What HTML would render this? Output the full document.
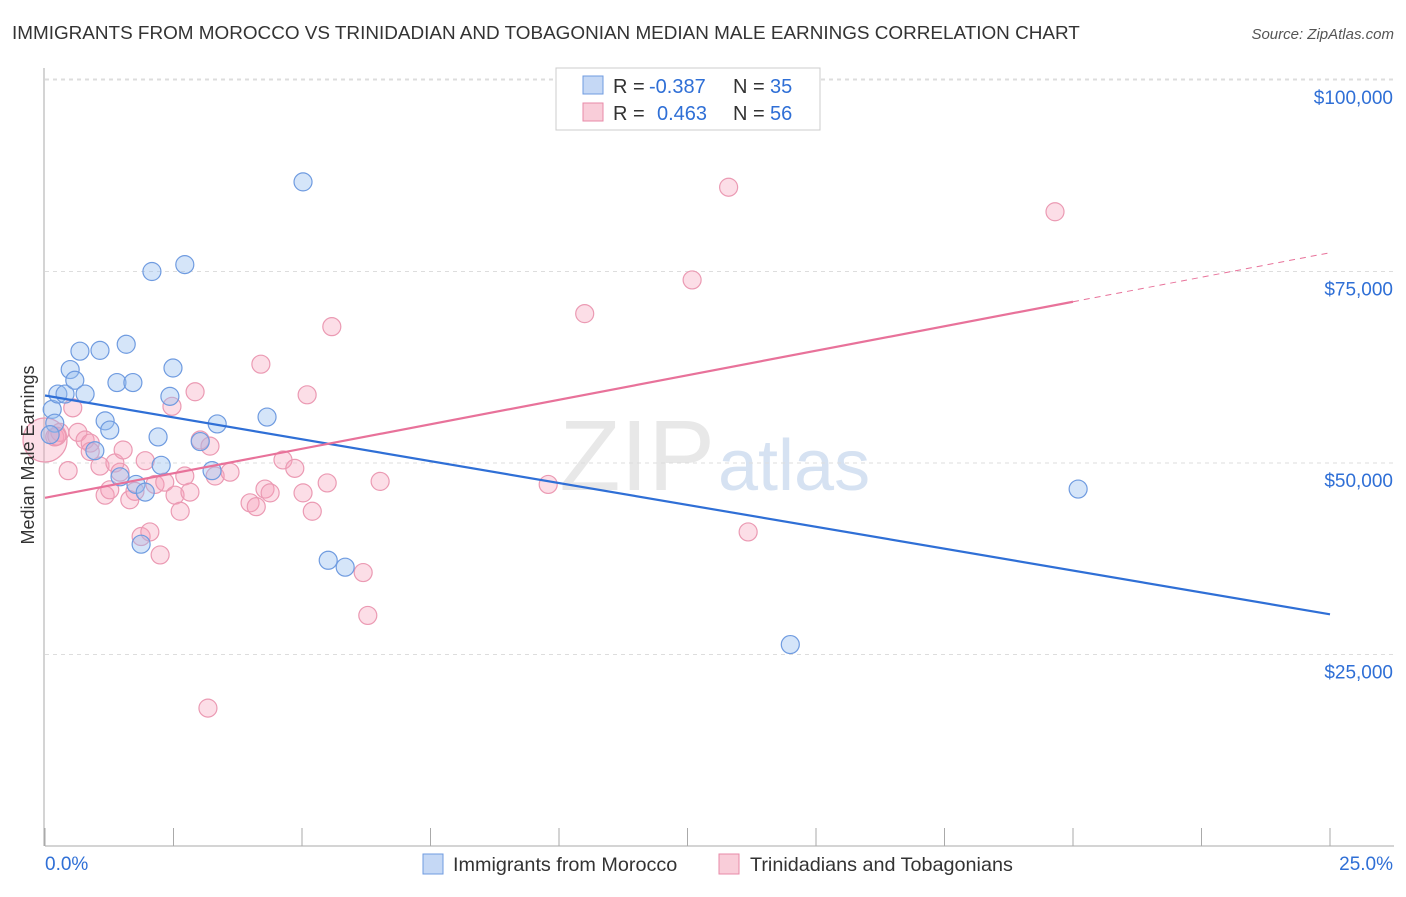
<!DOCTYPE html>
<html><head><meta charset="utf-8"><style>
body{margin:0;background:#fff;font-family:"Liberation Sans",sans-serif}
svg text{font-family:"Liberation Sans",sans-serif}
</style></head><body>
<svg id="c" width="1406" height="892">
<text x="12" y="39" font-size="18.9" fill="#333">IMMIGRANTS FROM MOROCCO VS TRINIDADIAN AND TOBAGONIAN MEDIAN MALE EARNINGS CORRELATION CHART</text>
<text x="1394" y="39" font-size="15" fill="#555" font-style="italic" text-anchor="end">Source: ZipAtlas.com</text>
<text x="715" y="490" font-size="100" fill="#e8e8e8" font-family="Liberation Serif" text-anchor="end">ZIP</text>
<text x="718" y="490" font-size="72" fill="#d6e2f2">atlas</text>
<g id="grid"></g><g id="axes"></g><g id="pts"></g><g id="lines"></g>
<text x="34" y="455" font-size="18" fill="#333" text-anchor="middle" transform="rotate(-90 34 455)">Median Male Earnings</text>
<g>
<rect x="556" y="68" width="264" height="62" fill="#fff" stroke="#ccc"/>
<rect x="583" y="76" width="20" height="18" fill="#c5d8f5" stroke="#6f9be0"/>
<rect x="583" y="103" width="20" height="18" fill="#f9cdd9" stroke="#e88aa8"/>
<text x="613" y="93" font-size="20" fill="#333">R =</text>
<text x="649" y="93" font-size="20" fill="#2f6fd6">-0.387</text>
<text x="733" y="93" font-size="20" fill="#333">N =</text>
<text x="770" y="93" font-size="20" fill="#2f6fd6">35</text>
<text x="613" y="120" font-size="20" fill="#333">R =</text>
<text x="657" y="120" font-size="20" fill="#2f6fd6">0.463</text>
<text x="733" y="120" font-size="20" fill="#333">N =</text>
<text x="770" y="120" font-size="20" fill="#2f6fd6">56</text>
</g>
<g>
<rect x="423" y="854" width="20" height="20" fill="#c5d8f5" stroke="#6f9be0"/>
<text x="453" y="871" font-size="19.8" fill="#333">Immigrants from Morocco</text>
<rect x="719" y="854" width="20" height="20" fill="#f9cdd9" stroke="#e88aa8"/>
<text x="750" y="871" font-size="19.8" fill="#333">Trinidadians and Tobagonians</text>
</g>
</svg>
<script>
const yTicks=[25000,50000,75000,100000];
const yTickLabels=["$25,000","$50,000","$75,000","$100,000"];
const xTickLabels=["0.0%","25.0%"];
const blueX=[0.14,0.19,0.25,0.39,0.49,0.58,0.68,0.78,1.07,1.17,1.26,0.97,1.40,1.58,1.71,1.46,1.77,1.95,1.87,2.08,2.20,2.26,2.49,2.43,2.72,3.02,3.25,3.35,4.32,5.02,5.51,5.84,14.5,20.1,0.10];
const blueY=[57000,55200,59000,59000,62200,60800,64600,59000,64700,55500,54300,51600,60500,65500,60500,48200,47200,46200,39400,75000,53400,49700,62400,58700,75900,52800,49000,55100,56000,86700,37300,36400,26300,46600,53700];
const pinkX=[0.0,0.19,0.29,0.54,0.45,0.64,0.78,0.88,1.07,1.17,1.26,1.36,1.46,1.52,1.65,1.75,1.87,2.04,1.95,2.14,2.24,2.33,2.47,2.53,2.63,2.72,2.82,2.92,3.02,3.17,3.21,3.31,3.6,3.99,4.11,4.20,4.28,4.38,4.63,4.86,5.02,5.1,5.2,5.49,5.58,6.19,6.28,6.52,9.79,10.5,12.59,13.3,13.68,19.65,0.23,0.88];
const pinkY=[53000,53400,54000,57200,49000,54000,53000,52600,49600,45800,46500,50000,48800,51700,45200,46300,40400,41000,50300,47200,38000,47500,57400,45800,43700,48300,46200,59300,53000,18000,52200,48300,48800,44800,44300,62900,46600,46100,50400,49300,46100,58900,43700,47400,67800,35700,30100,47600,47200,69500,73900,86000,41000,82800,53500,51500];
const pinkR=[22];
const X=v=>45+v/25*1285, Y=v=>846-v/25000*191.5;
const ns="http://www.w3.org/2000/svg";
function mk(p,t,a){const e=document.createElementNS(ns,t);for(const k in a)e.setAttribute(k,a[k]);document.getElementById(p).appendChild(e);return e;}
yTicks.forEach((v,i)=>{
const l=mk('grid','line',{x1:45,x2:1394,y1:Y(v),y2:Y(v),stroke:'#ddd','stroke-dasharray':'4 4'});


const t=mk('axes','text',{x:1393,y:Y(v)+24,'font-size':19,fill:'#2f6fd6','text-anchor':'end'});
t.textContent=yTickLabels[i];


});
const topGrid=mk('grid','line',{x1:45,x2:1394,y1:79,y2:79,stroke:'#ddd','stroke-dasharray':'4 4'});


const ax=mk('axes','line',{x1:45,x2:1394,y1:846,y2:846,stroke:'#aaa'});


const ay=mk('axes','line',{x1:44,x2:44,y1:68,y2:846,stroke:'#aaa'});


for(let i=0;i<=10;i++){const tk=mk('axes','line',{x1:X(i*2.5),x2:X(i*2.5),y1:828,y2:846,stroke:'#aaa'});

}
const t0=mk('axes','text',{x:45,y:870,'font-size':19,fill:'#2f6fd6'});t0.textContent=xTickLabels[0];


const t1=mk('axes','text',{x:1393,y:870,'font-size':19,fill:'#2f6fd6','text-anchor':'end'});t1.textContent=xTickLabels[1];


pinkX.forEach((x,i)=>{const c=mk('pts','circle',{cx:X(x),cy:Y(pinkY[i]),r:i==0?pinkR[0]:9,fill:'rgba(245,160,185,0.35)',stroke:'#eb9ab3','stroke-width':1.2});

});
blueX.forEach((x,i)=>{const c=mk('pts','circle',{cx:X(x),cy:Y(blueY[i]),r:9,fill:'rgba(150,190,240,0.4)',stroke:'#6f9be0','stroke-width':1.2});

});
function fit(xs,ys){const n=xs.length,mx=xs.reduce((a,b)=>a+b)/n,my=ys.reduce((a,b)=>a+b)/n;let sxy=0,sxx=0;xs.forEach((x,i)=>{sxy+=(x-mx)*(ys[i]-my);sxx+=(x-mx)**2});const b=sxy/sxx;return [my-b*mx,b];}
const [ba,bb]=fit(blueX,blueY);
const bl=mk('lines','line',{x1:X(0),y1:Y(ba),x2:X(25),y2:Y(ba+bb*25),stroke:'#2f6fd6','stroke-width':2.2});


const [pa,pb]=fit(pinkX,pinkY);
const pl=mk('lines','line',{x1:X(0),y1:Y(pa),x2:X(20),y2:Y(pa+pb*20),stroke:'#e8729a','stroke-width':2.2});


const pd=mk('lines','line',{x1:X(20),y1:Y(pa+pb*20),x2:X(25),y2:Y(pa+pb*25),stroke:'#e8729a','stroke-width':1,'stroke-dasharray':'6 5'});


</script>
</body></html>
